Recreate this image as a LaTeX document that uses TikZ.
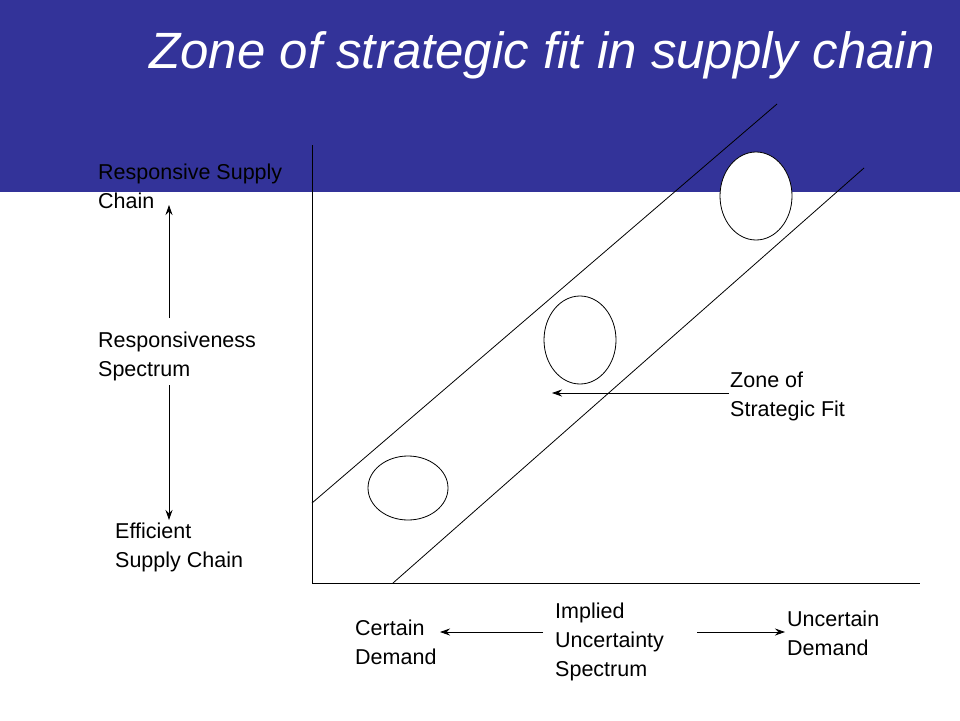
\documentclass[tikz,border=0pt]{standalone}
\usepackage{fontspec}
\setmainfont{Liberation Sans}
\usetikzlibrary{arrows.meta}
\definecolor{band}{HTML}{333399}
\begin{document}
\begin{tikzpicture}[x=1pt,y=-1pt,
  lbl/.style={anchor=north west,align=left,font=\fontsize{21.5}{29}\selectfont,inner sep=0pt},
  arr/.style={-{Stealth[length=10pt,width=7pt]},line width=0.8pt},
  ln/.style={line width=0.8pt}]
\useasboundingbox (0,0) rectangle (960,720);
\fill[band] (0,0) rectangle (960,192);
\node[white,font=\fontsize{51}{55}\itshape\selectfont] (title) at (542,55) {Zone of strategic fit in supply chain};
\coordinate (o) at (312,583);
\coordinate (ytop) at (312,145);
\coordinate (xend) at (920,583);
\draw[ln] (ytop) -- (o) -- (xend);
\coordinate (u1) at (312,503); \coordinate (u2) at (777,104);
\coordinate (l1) at (393,583); \coordinate (l2) at (864,168);
\draw[ln] (u1) -- (u2);
\draw[ln] (l1) -- (l2);
\draw[ln,fill=white] (408,488) ellipse [x radius=40,y radius=32];
\draw[ln,fill=white] (580,340) ellipse [x radius=36,y radius=44];
\draw[ln,fill=white] (756,196) ellipse [x radius=36,y radius=44];
\node[lbl] (zone) at (730,372) {Zone of\\Strategic Fit};
\coordinate (zs) at (729,393); \coordinate (ze) at (552,393);
\draw[arr] (zs) -- (ze);
\node[lbl] (resp) at (98,164) {Responsive Supply\\Chain};
\node[lbl] (spec) at (98,332) {Responsiveness\\Spectrum};
\node[lbl] (eff) at (115,523) {Efficient\\Supply Chain};
\coordinate (a1) at (169,318); \coordinate (a2) at (169,205);
\coordinate (b1) at (169,385); \coordinate (b2) at (169,520);
\draw[arr] (a1) -- (a2);
\draw[arr] (b1) -- (b2);
\node[lbl] (cert) at (355,620) {Certain\\Demand};
\node[lbl] (impl) at (555,603) {Implied\\Uncertainty\\Spectrum};
\node[lbl] (unc) at (787,611) {Uncertain\\Demand};
\coordinate (c1) at (543,632); \coordinate (c2) at (440,632);
\coordinate (d1) at (697,632); \coordinate (d2) at (785,632);
\draw[arr] (c1) -- (c2);
\draw[arr] (d1) -- (d2);
\end{tikzpicture}
\end{document}
